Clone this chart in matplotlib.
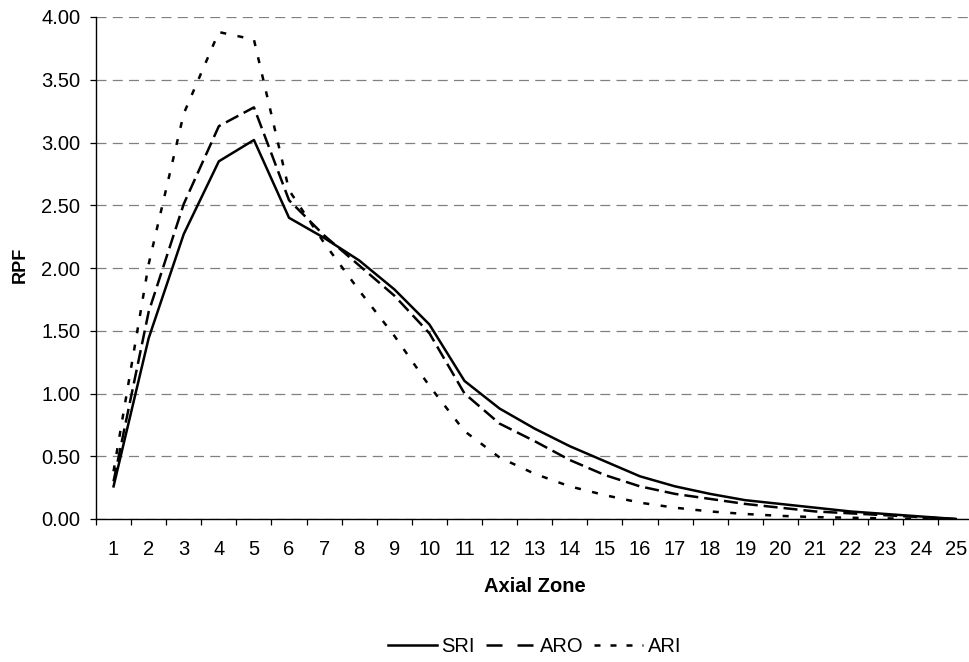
import numpy as np
import matplotlib
matplotlib.use("Agg")
import matplotlib.pyplot as plt
from matplotlib.ticker import MultipleLocator, FixedLocator, FormatStrFormatter
from matplotlib.lines import Line2D

plt.rcParams['font.family'] = ['Liberation Sans', 'DejaVu Sans']

zones = list(range(1, 26))
sri = [0.26, 1.44, 2.27, 2.85, 3.02, 2.40, 2.24, 2.06, 1.83, 1.55, 1.10, 0.88, 0.72,
       0.58, 0.46, 0.34, 0.26, 0.20, 0.15, 0.12, 0.09, 0.06, 0.04, 0.02, 0.00]
aro = [0.30, 1.65, 2.51, 3.13, 3.28, 2.54, 2.26, 2.02, 1.78, 1.48, 1.00, 0.76, 0.62,
       0.47, 0.35, 0.26, 0.20, 0.16, 0.12, 0.09, 0.06, 0.045, 0.03, 0.015, 0.00]
ari = [0.38, 2.03, 3.23, 3.88, 3.82, 2.62, 2.20, 1.82, 1.46, 1.06, 0.70, 0.49, 0.36,
       0.26, 0.19, 0.13, 0.09, 0.06, 0.04, 0.025, 0.015, 0.01, 0.005, 0.0, 0.0]
series_names = ['SRI', 'ARO', 'ARI']

FS = 14.5
LW = 1.8
dash_aro = (0, (5.6, 2.4))
dash_ari = (0, (2.4, 4.6))

fig = plt.figure(figsize=(9.69, 6.62), dpi=100)
ax = fig.add_axes([96 / 969, 143 / 662, 877.4 / 969, 502 / 662])

ax.plot(zones, sri, color='black', lw=LW)
ax.plot(zones, aro, color='black', lw=LW, linestyle=dash_aro)
ax.plot(zones, ari, color='black', lw=LW, linestyle=dash_ari)

ax.set_xlim(0.5, 25.5)
ax.set_ylim(0, 4)
ax.yaxis.set_major_locator(MultipleLocator(0.5))
ax.yaxis.set_major_formatter(FormatStrFormatter('%.2f'))
ax.set_xticks(zones)
ax.xaxis.set_minor_locator(FixedLocator(np.arange(0.5, 26, 1)))
ax.tick_params(axis='x', which='major', length=0, pad=15, labelsize=FS)
ax.tick_params(axis='x', which='minor', length=4.3, width=0.9, direction='out')
ax.tick_params(axis='y', length=4.3, width=0.9, direction='out', labelsize=FS, pad=7)

ax.grid(axis='y', color='#808080', lw=0.9, linestyle=(0, (8, 5)))
ax.set_axisbelow(True)
for s in ['top', 'right']:
    ax.spines[s].set_visible(False)
ax.spines['left'].set_linewidth(1)
ax.spines['bottom'].set_linewidth(1)

ax.set_xlabel('Axial Zone', fontsize=FS, fontweight='bold', labelpad=13)
ax.set_ylabel('RPF', fontsize=13, fontweight='bold')
ax.yaxis.set_label_coords(-0.077, 0.506)

# legend handles drawn like the spreadsheet legend (longer gaps)
handles = [
    Line2D([], [], color='black', lw=LW),
    Line2D([], [], color='black', lw=LW, linestyle=(0, (6.4, 6))),
    Line2D([], [], color='black', lw=LW, linestyle=(0, (2.4, 4))),
]
fig.legend(handles, series_names, loc='center', bbox_to_anchor=(534.7 / 969, 15 / 662),
           ncol=3, frameon=False, fontsize=FS, handlelength=2.4,
           handletextpad=0.25, columnspacing=0.55, borderaxespad=0)

fig.savefig('out.png', dpi=100)
